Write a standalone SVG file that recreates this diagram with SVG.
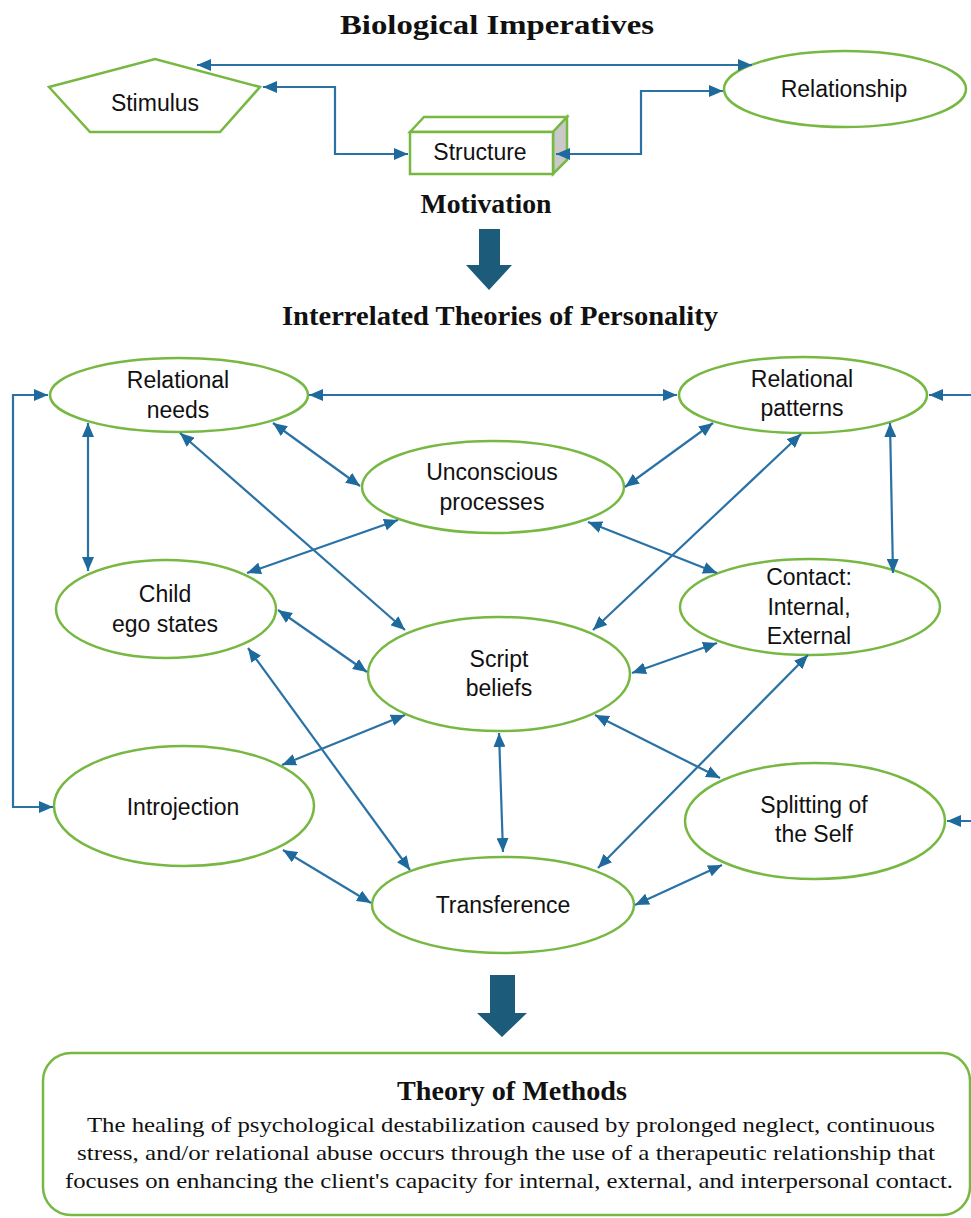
<svg xmlns="http://www.w3.org/2000/svg" width="971" height="1218" viewBox="0 0 971 1218">
<style>
.nd{fill:#fff;stroke:#77b843;stroke-width:2.5}
.lb{font-family:"Liberation Sans",Arial,sans-serif;font-size:23px;fill:#111;text-anchor:middle}
.hd{font-family:"Liberation Serif","Times New Roman",serif;font-weight:bold;font-size:28px;fill:#111;text-anchor:middle}
.bd{font-family:"Liberation Serif","Times New Roman",serif;font-size:22px;fill:#111;text-anchor:middle}
.cn{fill:none;stroke:#2a72a6;stroke-width:2.2;marker-start:url(#ah);marker-end:url(#ah)}
.big{fill:#1d5b7b}
</style>
<defs>
<marker id="ah" markerUnits="userSpaceOnUse" markerWidth="14" markerHeight="12" refX="14" refY="6" orient="auto-start-reverse">
<path d="M0,0 L14,6 L0,12 z" fill="#1f6a9c"/>
</marker>
</defs>
<rect width="971" height="1218" fill="#fff"/>

<text class="hd" x="497" y="34" textLength="314" lengthAdjust="spacingAndGlyphs">Biological Imperatives</text>

<g id="stimulus">
<polygon class="nd" points="49,87 155,59 260,87 220,132 90,132"/>
<text class="lb" x="155" y="111">Stimulus</text>
</g>
<g id="structure">
<polygon points="410,132 424,117 567,117 553,132" fill="#fff" stroke="#77b843" stroke-width="2.5"/>
<polygon points="553,132 567,117 567,160 553,174" fill="#c9c9c9" stroke="#77b843" stroke-width="2.5"/>
<rect x="410" y="132" width="143" height="42" fill="#fff" stroke="#77b843" stroke-width="2.5"/>
<text class="lb" x="480" y="160">Structure</text>
</g>
<g id="relationship">
<ellipse class="nd" cx="845" cy="89" rx="121" ry="38"/>
<text class="lb" x="844" y="97">Relationship</text>
</g>

<text class="hd" x="486" y="213" textLength="131" lengthAdjust="spacingAndGlyphs">Motivation</text>
<g id="arrow1"><polygon class="big" points="479,229 500,229 500,265 512,265 489,290 466,265 479,265"/></g>
<text class="hd" x="500" y="325" textLength="436" lengthAdjust="spacingAndGlyphs">Interrelated Theories of Personality</text>

<g id="relational-needs">
<ellipse class="nd" cx="179" cy="395" rx="129" ry="37"/>
<text class="lb" x="178" y="388">Relational</text>
<text class="lb" x="178" y="418">needs</text>
</g>
<g id="relational-patterns">
<ellipse class="nd" cx="803" cy="395" rx="124" ry="38"/>
<text class="lb" x="802" y="387">Relational</text>
<text class="lb" x="802" y="416">patterns</text>
</g>
<g id="unconscious">
<ellipse class="nd" cx="493" cy="487" rx="131" ry="46"/>
<text class="lb" x="492" y="480">Unconscious</text>
<text class="lb" x="492" y="510">processes</text>
</g>
<g id="child">
<ellipse class="nd" cx="166" cy="609" rx="110" ry="49"/>
<text class="lb" x="165" y="602">Child</text>
<text class="lb" x="165" y="632">ego states</text>
</g>
<g id="contact">
<ellipse class="nd" cx="810" cy="607" rx="130" ry="48"/>
<text class="lb" x="809" y="585">Contact:</text>
<text class="lb" x="809" y="615">Internal,</text>
<text class="lb" x="809" y="644">External</text>
</g>
<g id="script">
<ellipse class="nd" cx="499" cy="674" rx="131" ry="57"/>
<text class="lb" x="499" y="667">Script</text>
<text class="lb" x="499" y="696">beliefs</text>
</g>
<g id="introjection">
<ellipse class="nd" cx="184" cy="806" rx="130" ry="60"/>
<text class="lb" x="183" y="815">Introjection</text>
</g>
<g id="splitting">
<ellipse class="nd" cx="815" cy="821" rx="130" ry="58"/>
<text class="lb" x="814" y="813">Splitting of</text>
<text class="lb" x="814" y="842">the Self</text>
</g>
<g id="transference">
<ellipse class="nd" cx="503" cy="905" rx="131" ry="48"/>
<text class="lb" x="503" y="913">Transference</text>
</g>

<g id="connectors">
<path class="cn" d="M197,65 H752"/>
<path class="cn" d="M263,87 H335 V154 H408"/>
<path class="cn" d="M556,154 H641 V91 H723"/>
<path class="cn" d="M309,395 H677"/>
<path class="cn" d="M48,395 H13 V807 H53"/>
<path class="cn" d="M929,395 H974 V821 H947"/>
<path class="cn" d="M88,423 V571"/>
<path class="cn" d="M273,423 L360,486"/>
<path class="cn" d="M180,433 L405,630"/>
<path class="cn" d="M247,573 L398,520"/>
<path class="cn" d="M278,610 L367,672"/>
<path class="cn" d="M248,648 L410,870"/>
<path class="cn" d="M282,765 L405,715"/>
<path class="cn" d="M283,850 L371,903"/>
<path class="cn" d="M499,733 L503,852"/>
<path class="cn" d="M625,487 L713,423"/>
<path class="cn" d="M588,522 L717,573"/>
<path class="cn" d="M593,630 L801,434"/>
<path class="cn" d="M890,423 L893,573"/>
<path class="cn" d="M632,673 L717,643"/>
<path class="cn" d="M595,715 L720,778"/>
<path class="cn" d="M598,868 L808,655"/>
<path class="cn" d="M635,905 L722,865"/>
</g>

<g id="arrow2"><polygon class="big" points="490,975 515,975 515,1013 527,1013 502,1037 477,1013 490,1013"/></g>

<g id="theory-of-methods">
<rect x="43" y="1053" width="927" height="162" rx="28" fill="#fff" stroke="#77b843" stroke-width="2.5"/>
<text class="hd" x="512" y="1100" textLength="230" lengthAdjust="spacingAndGlyphs">Theory of Methods</text>
<text class="bd" x="511" y="1132" textLength="848" lengthAdjust="spacingAndGlyphs">The healing of psychological destabilization caused by prolonged neglect, continuous</text>
<text class="bd" x="506" y="1160" textLength="858" lengthAdjust="spacingAndGlyphs">stress, and/or relational abuse occurs through the use of a therapeutic relationship that</text>
<text class="bd" x="509" y="1188" textLength="888" lengthAdjust="spacingAndGlyphs">focuses on enhancing the client's capacity for internal, external, and interpersonal contact.</text>
</g>
</svg>
